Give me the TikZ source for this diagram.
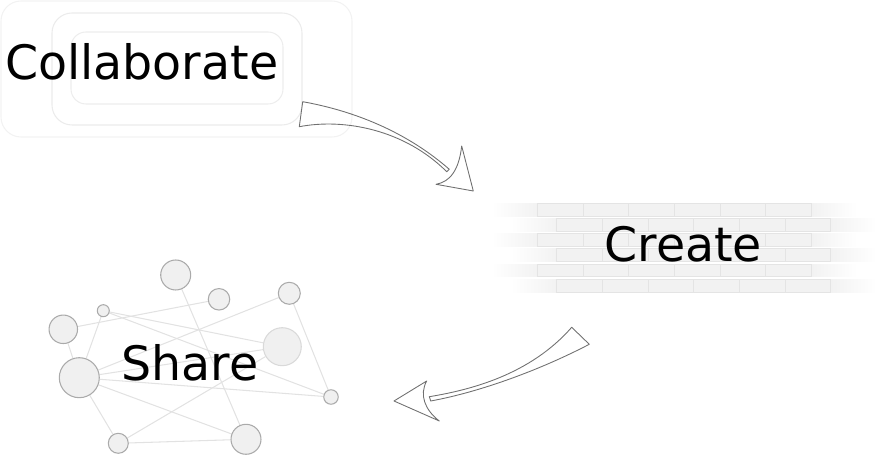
\documentclass[tikz,border=0pt]{standalone}
\usepackage{fontspec}
\setmainfont{DejaVu Sans}
\usetikzlibrary{backgrounds}
\definecolor{brickfill}{HTML}{F2F2F2}
\definecolor{brickline}{HTML}{E4E4E4}
\definecolor{dotfill}{HTML}{F0F0F0}
\definecolor{dotline}{HTML}{AAAAAA}
\definecolor{linkline}{HTML}{E2E2E2}
\definecolor{sketch}{HTML}{707070}
\tikzset{
  word/.style={font=\fontsize{27}{32}\selectfont, anchor=base, inner sep=0pt},
  frame/.style={line width=0.6pt, rounded corners=0.4cm},
  brick/.style={fill=brickfill, draw=brickline, line width=0.5pt},
  dot/.style={circle, fill=dotfill, draw=dotline, line width=0.6pt, inner sep=0pt},
  link/.style={draw=linkline, line width=0.6pt},
  sketchy/.style={draw=sketch, line width=0.5pt, line join=round}
}
\begin{document}
\begin{tikzpicture}[x=0.02cm, y=-0.02cm]
    \useasboundingbox (0,0) rectangle (877,455);

    % Collaborate: nested rounded frames
    \draw[frame, draw=black!5] (1,1) rectangle (352,137);
    \draw[frame, draw=black!8] (52,13) rectangle (302,125);
    \draw[frame, draw=black!7, rounded corners=0.3cm] (71,32) rectangle (283,104);
    \node[word] (collab) at (141.7,80) {Collaborate};

    % Create: brick wall with faded ends
    \foreach \r in {0,...,5}{
      \pgfmathsetmacro\ytop{203.3+15.2*\r}
      \pgfmathsetmacro\xl{mod(\r,2)==0 ? 537.3 : 556.7}
      \shade[left color=white, right color=brickfill] (\xl-45.7,\ytop) rectangle (\xl,\ytop+12.8);
      \shade[left color=brickfill, right color=white] (\xl+6*45.7,\ytop) rectangle (\xl+7*45.7,\ytop+12.8);
      \foreach \b in {0,...,5}
        \draw[brick] (\xl+\b*45.7,\ytop) rectangle ++(45.7,12.8);
    }
    \node[word] (create) at (683.3,261.7) {Create};

    % Share: small network
    \node[dot, minimum size=0.6cm] (n1) at (175.7,275) {};
    \node[dot, minimum size=0.43cm] (n2) at (219,299.3) {};
    \node[dot, minimum size=0.44cm] (n3) at (289.3,293.3) {};
    \node[dot, minimum size=0.24cm] (n4) at (103.3,310.7) {};
    \node[dot, minimum size=0.57cm] (n5) at (63.3,329.3) {};
    \node[dot, minimum size=0.76cm, draw=black!15] (n6) at (282.3,346.7) {};
    \node[dot, minimum size=0.8cm] (n7) at (79.3,377.7) {};
    \node[dot, minimum size=0.29cm] (n8) at (331,397) {};
    \node[dot, minimum size=0.4cm] (n9) at (118.3,443.3) {};
    \node[dot, minimum size=0.6cm] (n10) at (246,439.3) {};
    \begin{scope}[on background layer]
      \foreach \a/\b in {n5/n2, n5/n7, n4/n7, n4/n6, n4/n8, n1/n10, n3/n7,
          n3/n8, n7/n6, n7/n8, n7/n10, n7/n9, n9/n10, n9/n6}
        \draw[link] (\a) -- (\b);
    \end{scope}
    \node[word] (share) at (190,380.7) {Share};

    % Sketched arrow: Collaborate to Create
    \coordinate (t1a) at (302.7,101.7);
    \coordinate (t1b) at (299.3,126.7);
    \coordinate (s1a) at (449.3,169.3);
    \coordinate (s1b) at (446.7,171.7);
    \coordinate (h1top) at (461.7,146);
    \coordinate (h1tip) at (473.3,191);
    \coordinate (h1in) at (436,184.3);
    \draw[sketchy] (t1a) .. controls (360,112) and (410,135) .. (s1a)
      -- (s1b) .. controls (405,130) and (345,118) .. (t1b) -- cycle;
    \draw[sketchy] (h1top) -- (h1tip) -- (h1in)
      .. controls (450,182) and (459,170) .. (h1top) -- cycle;

    % Sketched arrow: Create to Share
    \coordinate (t2a) at (571.7,327.3);
    \coordinate (t2b) at (589.3,344.3);
    \coordinate (s2a) at (429.3,396.7);
    \coordinate (s2b) at (430.7,401);
    \coordinate (h2top) at (426.7,381);
    \coordinate (h2tip) at (394,401);
    \coordinate (h2bot) at (439.3,421);
    \draw[sketchy] (t2a) .. controls (530,375) and (470,390) .. (s2a)
      -- (s2b) .. controls (480,392) and (540,370) .. (t2b) -- cycle;
    \draw[sketchy] (h2top) -- (h2tip) -- (h2bot)
      .. controls (425,410) and (419,395) .. (h2top) -- cycle;
\end{tikzpicture}
\end{document}
